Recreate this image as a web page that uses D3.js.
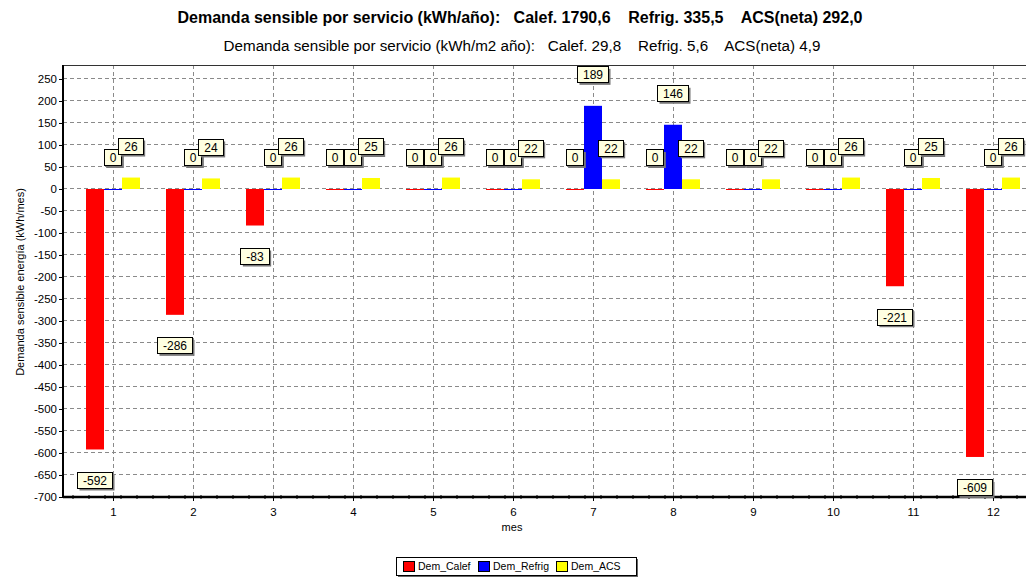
<!DOCTYPE html>
<html><head><meta charset="utf-8">
<script src="https://cdn.jsdelivr.net/npm/d3@7"></script>
<style>body{margin:0;background:#fff}text{white-space:pre}</style>
</head><body>
<svg id="c" width="1026" height="579"></svg>
<script>
const months = [1,2,3,4,5,6,7,8,9,10,11,12];
const calef  = [-592,-286,-83,0,0,0,0,0,0,0,-221,-609];
const refrig = [0,0,0,0,0,0,189,146,0,0,0,0];
const acs    = [26,24,26,25,26,22,22,22,22,26,25,26];
const seriesNames = ["Dem_Calef","Dem_Refrig","Dem_ACS"];
const seriesColors = ["#ff0000","#0000ff","#ffff00"];
const yTicks = d3.range(-700, 251, 50);
const title1 = "Demanda sensible por servicio (kWh/año):   Calef. 1790,6    Refrig. 335,5    ACS(neta) 292,0";
const title2 = "Demanda sensible por servicio (kWh/m2 año):   Calef. 29,8    Refrig. 5,6    ACS(neta) 4,9";
const yTitle = "Demanda sensible energía (kWh/mes)";
const xTitle = "mes";

const series = [calef, refrig, acs];
const svg = d3.select("#c");
const L = 63, R = 1043, T = 65, B = 497;
const x = d3.scaleLinear().domain([0.375, 12.625]).range([L, R]);
const y = d3.scaleLinear().domain([-700, 281.8]).range([B, T]);
const barW = 18;
const offs = [-18, 0, 18];
const font = "'Liberation Sans', Arial, sans-serif";
const fmt = d => String(d);

// titles
svg.append("text").attr("x", 520).attr("y", 23).attr("text-anchor","middle")
  .attr("font-family", font).attr("font-weight","bold").attr("font-size", 16).text(title1);
svg.append("text").attr("x", 522).attr("y", 51).attr("text-anchor","middle")
  .attr("font-family", font).attr("font-size", 15.2).text(title2);

// grid
const g = svg.append("g");
g.selectAll(".hg").data(yTicks.filter(d => d > -700)).enter().append("line")
  .attr("x1", L).attr("x2", R).attr("y1", d => y(d)).attr("y2", d => y(d))
  .attr("stroke", "#8a8a8a").attr("stroke-dasharray", "4,3").attr("shape-rendering","crispEdges");
g.selectAll(".vg").data(months).enter().append("line")
  .attr("x1", d => x(d)).attr("x2", d => x(d)).attr("y1", T).attr("y2", B)
  .attr("stroke", "#8a8a8a").attr("stroke-dasharray", "4,3").attr("shape-rendering","crispEdges");

// frame top
g.append("line").attr("x1", L).attr("x2", R).attr("y1", T).attr("y2", T)
  .attr("stroke", "#333").attr("shape-rendering","crispEdges");

// bars
series.forEach((vals, si) => {
  g.selectAll(".b"+si).data(vals).enter().append("rect")
    .attr("x", (d,i) => x(months[i]) + offs[si] - barW/2)
    .attr("width", barW)
    .attr("y", d => d >= 0 ? y(d) : y(0))
    .attr("height", d => Math.max(1, Math.abs(y(d) - y(0))))
    .attr("fill", seriesColors[si]);
});

// axes
const yAxis = d3.axisLeft(y).tickValues(yTicks).tickSize(4).tickFormat(fmt);
const ya = svg.append("g").attr("transform", `translate(${L},0)`).call(yAxis);
ya.select(".domain").attr("d", `M0,${T}V${B}`).attr("stroke","#000").attr("stroke-width",2);
ya.selectAll("text").attr("font-family", font).attr("font-size", 11.5).attr("fill","#000").attr("x",-6);
ya.selectAll("line").attr("stroke","#000");

const xAxis = d3.axisBottom(x).tickValues(months).tickSize(4).tickFormat(fmt);
const xa = svg.append("g").attr("transform", `translate(0,${B})`).call(xAxis);
xa.select(".domain").attr("d", `M${L},0H${R}`).attr("stroke","#000").attr("stroke-width",2.5);
xa.selectAll("text").attr("font-family", font).attr("font-size", 11.5).attr("fill","#000").attr("dy","1em");
xa.selectAll("line").attr("stroke","#000");
// minor ticks
const minor = d3.range(0.5, 12.6, 0.2).filter(v => Math.abs(v - Math.round(v)) > 0.05);
xa.selectAll(".mt").data(minor).enter().append("line")
  .attr("x1", d => x(d)).attr("x2", d => x(d)).attr("y1", -2).attr("y2", 2).attr("stroke","#000");

svg.append("text").attr("transform", `translate(24,282) rotate(-90)`)
  .attr("text-anchor","middle").attr("font-family", font).attr("font-size", 11).text(yTitle);
svg.append("text").attr("x", 512).attr("y", 531).attr("text-anchor","middle")
  .attr("font-family", font).attr("font-size", 11).text(xTitle);

// marks
const mg = svg.append("g");
series.forEach((vals, si) => {
  vals.forEach((v, i) => {
    const cx = x(months[i]) + offs[si];
    const h = 16;
    const grp = mg.append("g");
    const t = grp.append("text").attr("font-family", font).attr("font-size", 12)
      .attr("text-anchor","middle").text(fmt(v));
    const w = t.node().getComputedTextLength() + 11;
    const top = v >= 0 ? y(v) - 23 - h : y(v) + 23;
    grp.insert("rect", "text").attr("x", cx - w/2 + 2).attr("y", top + 2).attr("width", w).attr("height", h)
      .attr("fill", "#777");
    grp.insert("rect", "text").attr("x", cx - w/2).attr("y", top).attr("width", w).attr("height", h)
      .attr("fill", "#ffffe1").attr("stroke", "#000").attr("shape-rendering","crispEdges");
    t.attr("x", cx).attr("y", top + 12.5);
  });
});

// legend
const lg = svg.append("g");
const lx = 396, ly = 557, lw = 240, lh = 18;
lg.append("rect").attr("x", lx+2).attr("y", ly+2).attr("width", lw).attr("height", lh).attr("fill","#666");
lg.append("rect").attr("x", lx).attr("y", ly).attr("width", lw).attr("height", lh).attr("fill","#fff")
  .attr("stroke","#000").attr("shape-rendering","crispEdges");
const itemX = [403, 478, 556];
seriesNames.forEach((n, i) => {
  lg.append("rect").attr("x", itemX[i]).attr("y", ly+4).attr("width", 11).attr("height", 10)
    .attr("fill", seriesColors[i]).attr("stroke","#000").attr("shape-rendering","crispEdges");
  lg.append("text").attr("x", itemX[i]+15).attr("y", ly+13).attr("font-family", font)
    .attr("font-size", 10.5).text(n);
});
</script>
</body></html>
